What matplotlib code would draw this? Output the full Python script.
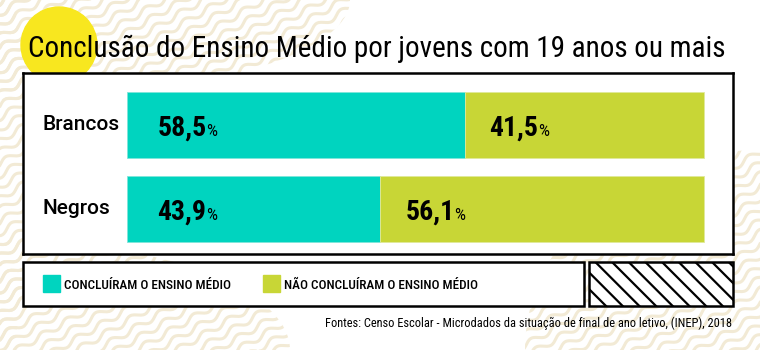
import numpy as np
import matplotlib
matplotlib.use('Agg')
import matplotlib.pyplot as plt
from matplotlib import font_manager
from matplotlib.patches import Rectangle, Circle, Ellipse

grupos = ['Brancos', 'Negros']
concluiram = [58.5, 43.9]
nao_concluiram = [41.5, 56.1]
legendas = ['CONCLUÍRAM O ENSINO MÉDIO', 'NÃO CONCLUÍRAM O ENSINO MÉDIO']
titulo = 'Conclusão do Ensino Médio por jovens com 19 anos ou mais'
fonte = 'Fontes: Censo Escolar - Microdados da situação de final de ano letivo, (INEP), 2018'

cor_sim = '#00D4BF'
cor_nao = '#C8D636'
cor_fundo = '#F2EAD5'
cor_circulo = '#F8E71F'

nomes = {f.name for f in font_manager.fontManager.ttflist}
estreita = next((n for n in ['Roboto Condensed', 'Liberation Sans Narrow', 'DejaVu Sans Condensed'] if n in nomes), None)
if estreita is None:
    estreita = 'Roboto'
    k = 0.85
else:
    k = 1.0

plt.rcParams['font.family'] = ['Roboto', 'DejaVu Sans']
plt.rcParams['hatch.linewidth'] = 1.6

fig = plt.figure(figsize=(7.6, 3.5), dpi=100)

# fundo decorativo em coordenadas de pixel
bg = fig.add_axes([0, 0, 1, 1], zorder=0)
bg.set_xlim(0, 760)
bg.set_ylim(350, 0)
bg.axis('off')

ang = np.deg2rad(30)
d = np.array([np.cos(ang), -np.sin(ang)])
n = np.array([np.sin(ang), np.cos(ang)])
t = np.arange(-700, 700, 1.0)
formas = [Ellipse((0, 0), 700, 200), Ellipse((0, 175), 50, 420),
          Ellipse((0, 350), 580, 220), Ellipse((760, 350), 470, 400)]
for forma in formas:
    bg.add_patch(forma)
    forma.set_visible(False)
    for j in range(-55, 56):
        base = np.array([380, 175]) + j * 10 * n
        onda = 3.0 * np.sin(2 * np.pi * t / 28)
        px = base[0] + t * d[0] + onda * n[0]
        py = base[1] + t * d[1] + onda * n[1]
        ln, = bg.plot(px, py, color=cor_fundo, lw=2.2, solid_capstyle='round')
        ln.set_clip_path(forma)

bg.add_patch(Circle((59, 45), 38, color=cor_circulo, zorder=3))
bg.text(28, 57, titulo, fontsize=21 * k, family=[estreita, 'Roboto'], va='baseline', ha='left', zorder=4)

# legenda
bg.add_patch(Rectangle((23, 262), 561, 44, facecolor='white', edgecolor='black', lw=1.8, zorder=3))
bg.add_patch(Rectangle((589, 262), 144, 44, facecolor='white', edgecolor='black', hatch='\\\\', lw=1.8, zorder=3))
for x0, cor, rot in zip([43, 263], [cor_sim, cor_nao], legendas):
    bg.add_patch(Rectangle((x0, 275), 17, 17, color=cor, zorder=4))
    bg.text(x0 + 21, 289, rot, fontsize=9.5 * k, family=[estreita, 'Roboto'], fontweight='medium',
            va='baseline', ha='left', zorder=4)

bg.text(732, 327, fonte, fontsize=8.9 * k, family=[estreita, 'Roboto'], va='baseline', ha='right', zorder=4)

# barras
ax = fig.add_axes([23 / 760, 1 - 254 / 350, 710 / 760, 181 / 350], zorder=2)
ax.set_facecolor('white')
for s in ax.spines.values():
    s.set_linewidth(1.8)
    s.set_color('black')
ax.set_xticks([])
ax.set_yticks([])

y = np.arange(len(grupos))
ax.barh(y, concluiram, height=0.79, color=cor_sim, edgecolor='#7FE6DA', lw=0.6)
ax.barh(y, nao_concluiram, left=concluiram, height=0.79, color=cor_nao, edgecolor='#E0E99A', lw=0.6)
ax.set_xlim(-(127 - 23) / 577 * 100, 100 + (733 - 704) / 577 * 100)
ax.set_ylim(1 + 45 / 84, -52 / 84)

for i, g in enumerate(grupos):
    ax.text(19 / 710, i, g, transform=ax.get_yaxis_transform(), fontsize=15, fontweight='medium',
            va='center', ha='left')
    for esq, v, dx in [(0, concluiram[i], 22), (concluiram[i], nao_concluiram[i], 18)]:
        num = f'{v:.1f}'.replace('.', ',')
        t_num = ax.annotate(num, xy=(esq, i), xytext=(dx, -8), textcoords='offset points',
                            fontsize=20 * k, family=[estreita, 'Roboto'], fontweight='bold', va='baseline', ha='left')
        ax.annotate('%', xy=(1, i), xycoords=(t_num, 'data'), xytext=(-0.5, -8), textcoords='offset points',
                    fontsize=12.5 * k, family=[estreita, 'Roboto'], va='baseline', ha='left')

fig.savefig('out.png', dpi=100)
